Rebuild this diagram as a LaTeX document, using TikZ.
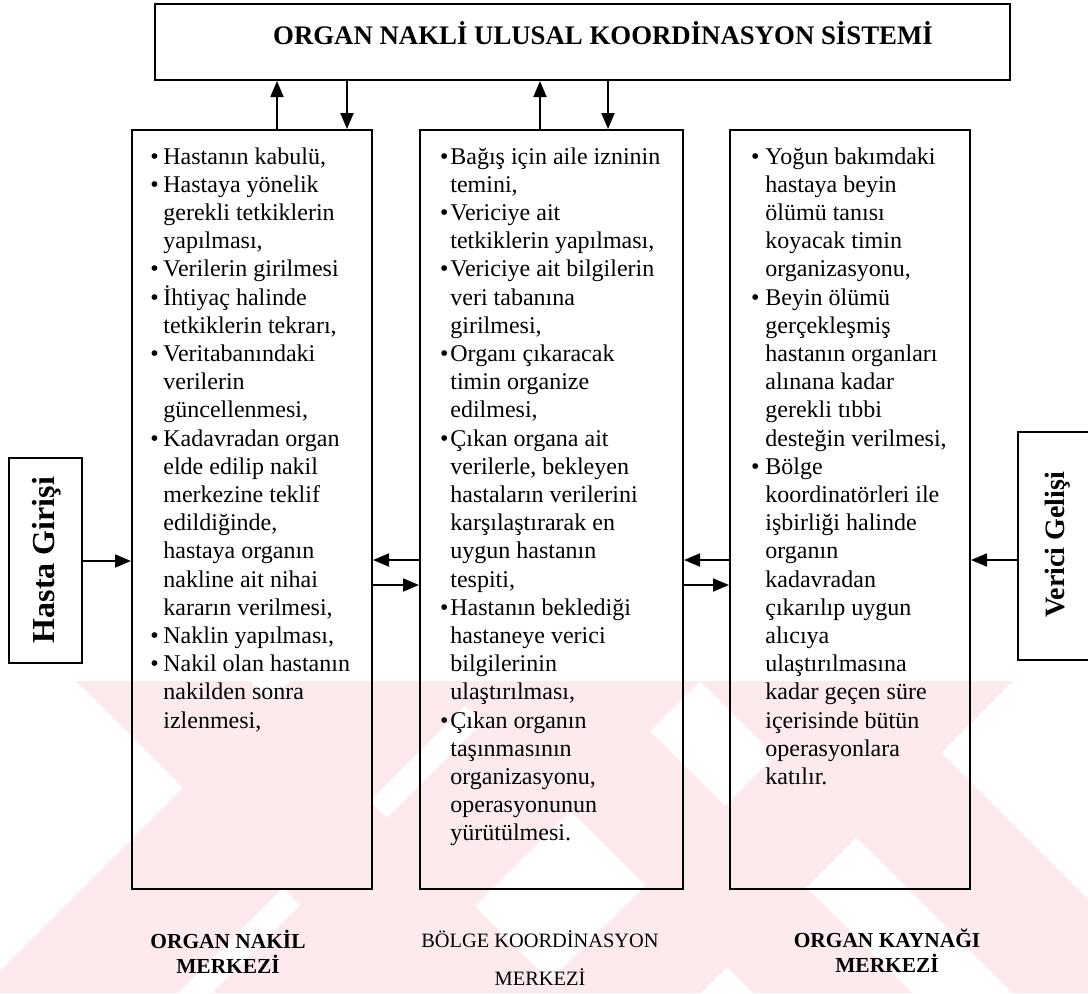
\documentclass[tikz,border=0pt]{standalone}
\usepackage{fontspec}
\setmainfont{Liberation Serif}
\usetikzlibrary{arrows.meta}

\definecolor{wm}{RGB}{253,234,237}

% bullet hanging to the left of the text column
\newcommand{\bul}[1][2.3pt]{\leavevmode\llap{\textbullet\hspace{#1}}\ignorespaces}
% text column with the first baseline as reference point
\newcommand{\colbox}[1]{\begin{minipage}[t]{150pt}\raggedright\fontsize{12}{14.1}\selectfont #1\end{minipage}}

\tikzset{
  panel/.style={draw, line width=1pt, inner sep=0pt},
  flow/.style={-{Triangle[length=8pt,width=6.5pt]}, line width=0.9pt},
  bodytext/.style={inner sep=0pt, anchor=base west},
  caption/.style={inner sep=0pt, align=center},
}

\begin{document}
\begin{tikzpicture}[x=0.5pt,y=-0.5pt]
\useasboundingbox (0,0) rectangle (1088,993);

% faint background stamp in the lower part
\begin{scope}
  \clip (0,681) rectangle (1088,993);
  \fill[wm] (76,681) -- (250,681) -- (562,993) -- (388,993) -- cycle;
  \fill[wm] (290,681) -- (490,681) -- (178,993) -- (-22,993) -- cycle;
  \fill[wm] (441,681) -- (600,681) -- (912,993) -- (753,993) -- cycle;
  \fill[wm] (524,681) -- (700,681) -- (388,993) -- (212,993) -- cycle;
  \fill[wm] (700,681) -- (870,681) -- (1182,993) -- (1012,993) -- cycle;
  \fill[wm] (850,681) -- (1013,681) -- (701,993) -- (538,993) -- cycle;
\end{scope}

% boxes
\node[panel, minimum width=427.5pt, minimum height=38pt] (top) at (582.5,42) {};
\node[panel, minimum width=120pt, minimum height=379.5pt] (lb) at (252,509.5) {};
\node[panel, minimum width=131.5pt, minimum height=379.5pt] (cb) at (551.5,509.5) {};
\node[panel, minimum width=120pt, minimum height=379.5pt] (rb) at (850,509.5) {};
\node[panel, minimum width=36.5pt, minimum height=102.5pt] (hasta) at (45.5,560.5) {};
\node[panel, minimum width=41pt, minimum height=114pt] (verici) at (1059,546) {};

% box titles
\node[inner sep=0pt, font=\bfseries\fontsize{13.4}{16}\selectfont] (title) at (603,33)
  {ORGAN NAKLİ ULUSAL KOORDİNASYON SİSTEMİ};
\node[inner sep=0pt, rotate=90, font=\bfseries\fontsize{16}{18}\selectfont] (hastatext) at (47,560)
  {Hasta Girişi};
\node[inner sep=0pt, rotate=90, font=\bfseries\fontsize{14}{16}\selectfont] (vericitext) at (1058,545)
  {Verici Gelişi};

% contents of the three centres
\node[bodytext] (lbtext) at (163,164) {\colbox{%
\bul Hastanın kabulü,\\
\bul Hastaya yönelik\\
gerekli tetkiklerin\\
yapılması,\\
\bul Verilerin girilmesi\\
\bul İhtiyaç halinde\\
tetkiklerin tekrarı,\\
\bul Veritabanındaki\\
verilerin\\
güncellenmesi,\\
\bul Kadavradan organ\\
elde edilip nakil\\
merkezine teklif\\
edildiğinde,\\
hastaya organın\\
nakline ait nihai\\
kararın verilmesi,\\
\bul Naklin yapılması,\\
\bul Nakil olan hastanın\\
nakilden sonra\\
izlenmesi,}};

\node[bodytext] (cbtext) at (450,164) {\colbox{%
\bul[1pt] Bağış için aile izninin\\
temini,\\
\bul[1pt] Vericiye ait\\
tetkiklerin yapılması,\\
\bul[1pt] Vericiye ait bilgilerin\\
veri tabanına\\
girilmesi,\\
\bul[1pt] Organı çıkaracak\\
timin organize\\
edilmesi,\\
\bul[1pt] Çıkan organa ait\\
verilerle, bekleyen\\
hastaların verilerini\\
karşılaştırarak en\\
uygun hastanın\\
tespiti,\\
\bul[1pt] Hastanın beklediği\\
hastaneye verici\\
bilgilerinin\\
ulaştırılması,\\
\bul[1pt] Çıkan organın\\
taşınmasının\\
organizasyonu,\\
operasyonunun\\
yürütülmesi.}};

\node[bodytext] (rbtext) at (765,164) {\colbox{%
\bul[3pt] Yoğun bakımdaki\\
hastaya beyin\\
ölümü tanısı\\
koyacak timin\\
organizasyonu,\\
\bul[3pt] Beyin ölümü\\
gerçekleşmiş\\
hastanın organları\\
alınana kadar\\
gerekli tıbbi\\
desteğin verilmesi,\\
\bul[3pt] Bölge\\
koordinatörleri ile\\
işbirliği halinde\\
organın\\
kadavradan\\
çıkarılıp uygun\\
alıcıya\\
ulaştırılmasına\\
kadar geçen süre\\
içerisinde bütün\\
operasyonlara\\
katılır.}};

% captions under the centres
\node[caption, font=\bfseries\fontsize{10.7}{12.5}\selectfont] (lcap) at (228,952)
  {ORGAN NAKİL\\MERKEZİ};
\node[caption, font=\fontsize{10.2}{19}\selectfont] (ccap) at (540,958)
  {BÖLGE KOORDİNASYON\\MERKEZİ};
\node[caption, font=\bfseries\fontsize{10.7}{12.5}\selectfont] (rcap) at (887,951)
  {ORGAN KAYNAĞI\\MERKEZİ};

% links to the national system
\draw[flow] (lb.north -| 277,0) -- (top.south -| 277,0);
\draw[flow] (top.south -| 347,0) -- (lb.north -| 347,0);
\draw[flow] (cb.north -| 540,0) -- (top.south -| 540,0);
\draw[flow] (top.south -| 608,0) -- (cb.north -| 608,0);

% horizontal links
\draw[flow] (hasta.east |- 0,561) -- (lb.west |- 0,561);
\draw[flow] (cb.west |- 0,560) -- (lb.east |- 0,560);
\draw[flow] (lb.east |- 0,585) -- (cb.west |- 0,585);
\draw[flow] (rb.west |- 0,560) -- (cb.east |- 0,560);
\draw[flow] (cb.east |- 0,585) -- (rb.west |- 0,585);
\draw[flow] (verici.west |- 0,560) -- (rb.east |- 0,560);
\end{tikzpicture}
\end{document}
